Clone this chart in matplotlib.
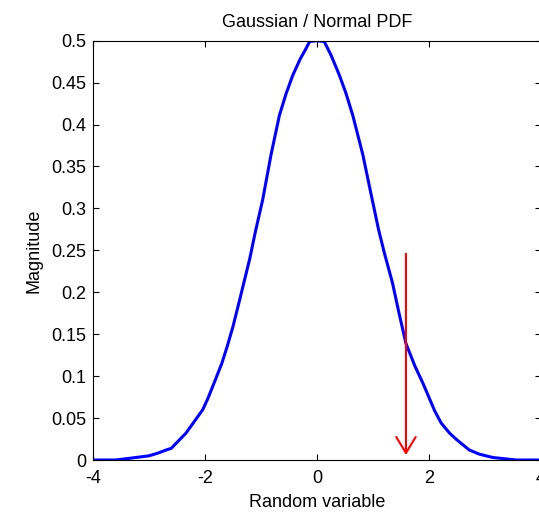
import numpy as np
import matplotlib
matplotlib.use("Agg")
import matplotlib.pyplot as plt
from matplotlib.ticker import FormatStrFormatter

plt.rcParams['font.family'] = ['Liberation Sans', 'DejaVu Sans']
plt.rcParams['axes.unicode_minus'] = False

# curve (random variable, magnitude)
x_vals = [-4.0, -3.6, -3.35, -3.0, -2.85, -2.69, -2.6, -2.5, -2.34, -2.2, -2.04,
          -1.95, -1.83, -1.7, -1.6, -1.5, -1.38, -1.2, -1.1, -0.97, -0.82, -0.67,
          -0.55, -0.43, -0.3, -0.2, -0.13, 0.0, 0.13, 0.25, 0.40, 0.52, 0.64, 0.82,
          0.97, 1.1, 1.2, 1.35, 1.47, 1.59, 1.75, 1.89, 1.98, 2.1, 2.22, 2.37, 2.5,
          2.72, 2.9, 3.14, 3.56, 4.0]
y_vals = [0.0, 0.0, 0.002, 0.005, 0.008, 0.012, 0.014, 0.021, 0.032, 0.045, 0.060,
          0.073, 0.093, 0.115, 0.136, 0.159, 0.191, 0.240, 0.272, 0.310, 0.364, 0.411,
          0.437, 0.459, 0.478, 0.490, 0.499, 0.500, 0.499, 0.483, 0.459, 0.437, 0.411, 0.364,
          0.316, 0.275, 0.248, 0.211, 0.174, 0.139, 0.112, 0.092, 0.078, 0.059, 0.044, 0.032, 0.024,
          0.012, 0.007, 0.003, 0.0, 0.0]

arrow_x = 1.59
arrow_top = 0.246
arrow_tip = 0.006

x_ticks = [-4, -2, 0, 2, 4]
y_ticks = [0, 0.05, 0.1, 0.15, 0.2, 0.25, 0.3, 0.35, 0.4, 0.45, 0.5]

fig = plt.figure(figsize=(5.39, 5.13), dpi=100)
ax = fig.add_axes([0.1725, 0.1033, 0.831, 0.8174])
ax.plot(x_vals, y_vals, color='blue', lw=2.2, solid_joinstyle='round')
ax.annotate("", xy=(arrow_x, arrow_tip), xytext=(arrow_x, arrow_top),
            arrowprops=dict(arrowstyle='->,head_length=1.15,head_width=0.7',
                            color='red', lw=1.5, shrinkA=0, shrinkB=0, mutation_scale=10))

ax.set_xlim(-4, 4); ax.set_ylim(0, 0.5)
ax.set_xticks(x_ticks); ax.set_yticks(y_ticks)
ax.yaxis.set_major_formatter(FormatStrFormatter('%g'))
ax.tick_params(direction='in', length=4, width=0.8, top=True, right=True, labelsize=13)
ax.tick_params(axis='x', pad=7)
ax.tick_params(axis='y', pad=5)
for s in ax.spines.values():
    s.set_linewidth(0.8)
ax.set_title("Gaussian / Normal PDF", fontsize=13, pad=10)
ax.set_xlabel("Random variable", fontsize=13, labelpad=5)
ax.set_ylabel("Magnitude", fontsize=13, labelpad=6)

fig.savefig("out.png", dpi=100)
